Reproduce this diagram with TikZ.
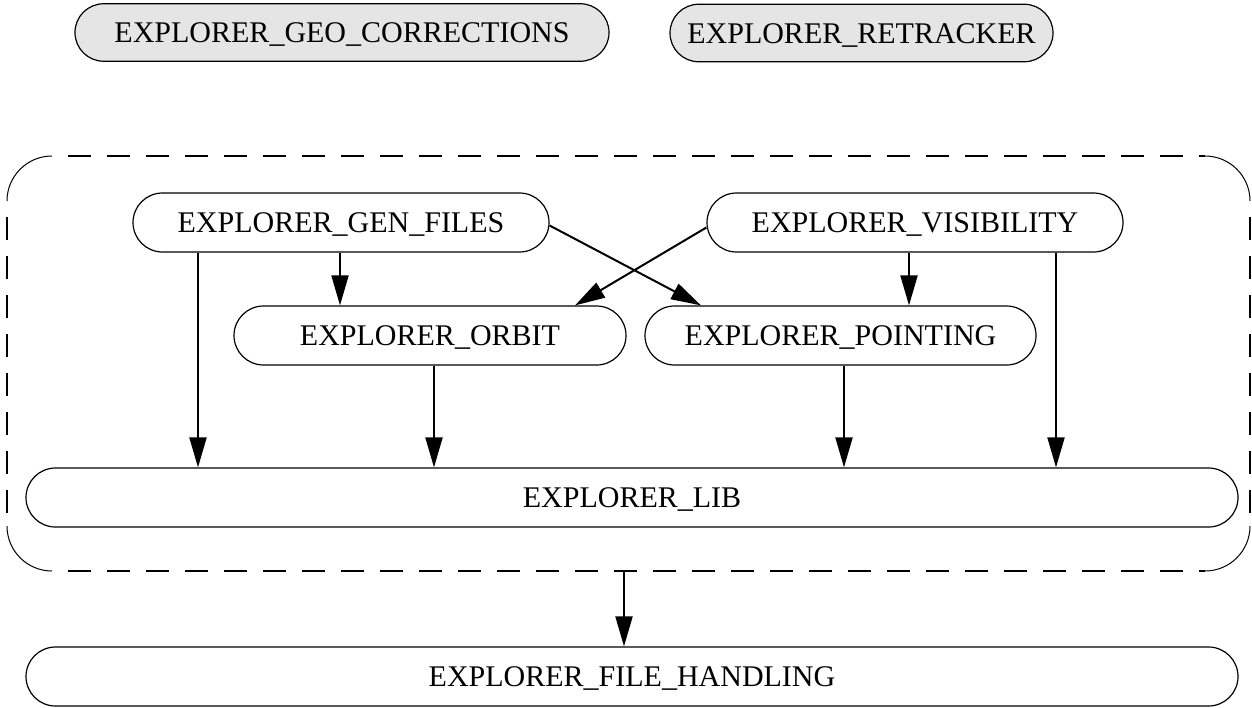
\documentclass[tikz,border=0pt]{standalone}
\usepackage{fontspec}
\setmainfont{Liberation Serif}
\usetikzlibrary{arrows.meta}
\begin{document}
\begin{tikzpicture}[x=1pt,y=-1pt,
  font=\fontsize{30}{36}\selectfont,
  pill/.style={draw, line width=1.2pt, rounded corners=29.5pt, minimum height=59pt, inner sep=0pt, text height=20pt, text depth=0pt},
  greypill/.style={pill, fill=black!10, minimum height=57.5pt, rounded corners=28.7pt},
  arr/.style={line width=2pt, -{Triangle[length=30pt,width=17pt]}},
  dashline/.style={line width=2pt, dash pattern=on 23pt off 16pt, dash phase=23pt},
  arcline/.style={line width=1pt, rounded corners=45pt}]
\useasboundingbox (0,0) rectangle (1252,707);
% top grey nodes
\node[greypill, minimum width=534pt] (geo) at (342,32.5) {EXPLORER\_GEO\_CORRECTIONS};
\node[greypill, minimum width=383pt] (ret) at (861.5,33) {EXPLORER\_RETRACKER};
% container
\draw[dashline] (52,156) -- (1205,156);
\draw[dashline] (52,571) -- (1205,571);
\draw[dashline] (7,201) -- (7,526);
\draw[dashline] (1250,201) -- (1250,526);
\draw[arcline] (7,201) -- (7,156) -- (52,156);
\draw[arcline] (1205,156) -- (1250,156) -- (1250,201);
\draw[arcline] (7,526) -- (7,571) -- (52,571);
\draw[arcline] (1205,571) -- (1250,571) -- (1250,526);
\coordinate (contbot) at (624,571);
% inner nodes
\node[pill, minimum width=416pt] (gen) at (341,222.5) {EXPLORER\_GEN\_FILES};
\node[pill, minimum width=416pt] (vis) at (915,222.5) {EXPLORER\_VISIBILITY};
\node[pill, minimum width=392pt] (orb) at (430,335.5) {EXPLORER\_ORBIT};
\node[pill, minimum width=391pt] (pnt) at (840.5,335.5) {EXPLORER\_POINTING};
\node[pill, minimum width=1212pt] (lib) at (632,497.5) {EXPLORER\_LIB};
\node[pill, minimum width=1212pt] (fh) at (632,676.5) {EXPLORER\_FILE\_HANDLING};
% arrows
\draw[arr] ([xshift=-143pt]gen.south) -- ([xshift=-434pt]lib.north);
\draw[arr] ([xshift=-1pt]gen.south) -- ([xshift=-90pt]orb.north);
\draw[arr] ([yshift=-3pt]gen.east) -- ([xshift=-139.5pt]pnt.north);
\draw[arr] ([yshift=-5pt]vis.west) -- ([xshift=145pt]orb.north);
\draw[arr] ([xshift=-6pt]vis.south) -- ([xshift=68.5pt]pnt.north);
\draw[arr] ([xshift=141pt]vis.south) -- ([xshift=424pt]lib.north);
\draw[arr] ([xshift=4pt]orb.south) -- ([xshift=-198pt]lib.north);
\draw[arr] ([xshift=3.5pt]pnt.south) -- ([xshift=212pt]lib.north);
\draw[arr] (contbot) -- (fh.north -| contbot);
\end{tikzpicture}
\end{document}
